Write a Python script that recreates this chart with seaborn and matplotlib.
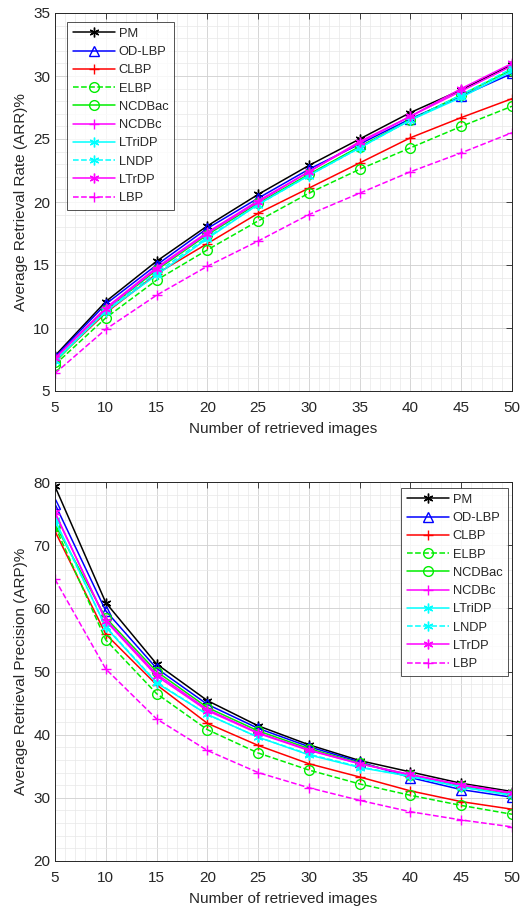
import numpy as np
import pandas as pd
import seaborn as sns
import matplotlib.pyplot as plt
from matplotlib.ticker import MultipleLocator

# retrieved images
n_images = [5, 10, 15, 20, 25, 30, 35, 40, 45, 50]
methods = ["PM", "OD-LBP", "CLBP", "ELBP", "NCDBac", "NCDBc", "LTriDP", "LNDP", "LTrDP", "LBP"]

# Average Retrieval Rate (ARR)%
arr_pm = [7.8, 12.1, 15.3, 18.1, 20.6, 22.9, 25.0, 27.1, 28.9, 30.9]
arr_odlbp = [7.7, 11.9, 15.0, 17.9, 20.3, 22.6, 24.6, 26.6, 28.4, 30.2]
arr_clbp = [7.4, 11.2, 14.3, 16.7, 19.1, 21.1, 23.1, 25.1, 26.7, 28.2]
arr_elbp = [7.1, 10.8, 13.8, 16.2, 18.5, 20.7, 22.6, 24.3, 26.0, 27.6]
arr_ncdbac = [7.3, 11.4, 14.6, 17.4, 19.9, 22.2, 24.4, 26.5, 28.5, 30.5]
arr_ncdbc = [7.6, 11.6, 14.8, 17.6, 20.1, 22.4, 24.7, 26.8, 28.8, 30.8]
arr_ltridp = [7.4, 11.3, 14.2, 17.1, 19.8, 22.1, 24.3, 26.5, 28.3, 30.4]
arr_lndp = [7.4, 11.4, 14.4, 17.2, 19.8, 22.1, 24.3, 26.5, 28.5, 30.6]
arr_ltrdp = [7.6, 11.5, 14.7, 17.5, 20.0, 22.4, 24.8, 26.8, 29.0, 31.0]
arr_lbp = [6.4, 9.9, 12.6, 14.9, 16.9, 19.0, 20.7, 22.4, 23.9, 25.5]

# Average Retrieval Precision (ARP)%
arp_pm = [79.3, 60.9, 51.2, 45.4, 41.4, 38.4, 35.9, 34.1, 32.3, 31.0]
arp_odlbp = [76.5, 59.6, 50.5, 44.8, 41.0, 38.1, 35.7, 33.2, 31.3, 30.1]
arp_clbp = [72.2, 55.9, 47.9, 41.8, 38.3, 35.4, 33.3, 31.1, 29.4, 28.2]
arp_elbp = [73.0, 55.0, 46.5, 40.8, 37.1, 34.4, 32.2, 30.4, 28.8, 27.4]
arp_ncdbac = [73.3, 58.5, 50.0, 44.3, 40.6, 37.8, 35.5, 33.6, 31.9, 30.6]
arp_ncdbc = [75.0, 58.2, 49.6, 44.0, 40.3, 37.6, 35.4, 33.6, 32.0, 30.7]
arp_ltridp = [74.0, 57.0, 48.2, 43.2, 39.6, 36.8, 34.8, 33.4, 31.7, 30.4]
arp_lndp = [73.8, 57.1, 48.3, 43.2, 39.6, 36.9, 34.9, 33.4, 31.7, 30.4]
arp_ltrdp = [75.2, 58.0, 49.3, 43.8, 40.2, 37.5, 35.4, 33.7, 32.1, 30.8]
arp_lbp = [64.6, 50.4, 42.5, 37.5, 34.0, 31.6, 29.6, 27.8, 26.5, 25.4]

arr = [arr_pm, arr_odlbp, arr_clbp, arr_elbp, arr_ncdbac, arr_ncdbc, arr_ltridp, arr_lndp, arr_ltrdp, arr_lbp]
arp = [arp_pm, arp_odlbp, arp_clbp, arp_elbp, arp_ncdbac, arp_ncdbc, arp_ltridp, arp_lndp, arp_ltrdp, arp_lbp]

# matlab-ish line styles ("*" there is an asterisk, not a star)
ast = (6, 2, 0)
colors = ["k", "b", "r", "#00ee00", "#00ee00", "#ff00ff", "#00ffff", "#00ffff", "#ff00ff", "#ff00ff"]
markers = [ast, "^", "+", "o", "o", "+", ast, ast, ast, "+"]
lstyles = ["-", "-", "-", "--", "-", "-", "-", "--", "-", "--"]

sns.set_style("white")
plt.rcParams['font.family'] = ['Liberation Sans', 'DejaVu Sans']

fig = plt.figure(figsize=(5.28, 9.07), dpi=100)
ax1 = fig.add_axes([55 / 528, 1 - 391 / 907, 457 / 528, 378 / 907])
ax2 = fig.add_axes([55 / 528, 1 - 861 / 907, 457 / 528, 379 / 907])


def draw(ax, data, ylabel, ylim, ymaj, ymin, loc, anchor):
    for name, vals, c, m, ls in zip(methods, data, colors, markers, lstyles):
        df = pd.DataFrame({"n": n_images, "v": vals})
        sns.lineplot(data=df, x="n", y="v", ax=ax, color=c, marker=m, linestyle=ls,
                     markersize=7, markerfacecolor="none",
                     markeredgecolor=c, markeredgewidth=1.0, linewidth=1.1, label=name)
    ax.set_xlim(5, 50)
    ax.set_ylim(*ylim)
    ax.xaxis.set_major_locator(MultipleLocator(5))
    ax.xaxis.set_minor_locator(MultipleLocator(1))
    ax.yaxis.set_major_locator(MultipleLocator(ymaj))
    ax.yaxis.set_minor_locator(MultipleLocator(ymin))
    ax.grid(which="major", color="#cfcfcf", linewidth=0.6)
    ax.grid(which="minor", color="#e8e8e8", linewidth=0.5)
    ax.set_axisbelow(True)
    ax.tick_params(which="major", direction="in", length=4, top=True, right=True,
                   labelsize=11, colors="#262626", width=0.6)
    ax.tick_params(axis="x", which="major", pad=7)
    ax.tick_params(which="minor", length=0)
    for s in ax.spines.values():
        s.set_color("#262626")
        s.set_linewidth(0.7)
    ax.set_xlabel("Number of retrieved images", fontsize=11, color="#262626", labelpad=5)
    ax.set_ylabel(ylabel, fontsize=11, color="#262626")
    leg = ax.legend(loc=loc, bbox_to_anchor=anchor, borderaxespad=0, fontsize=9.3,
                    handlelength=3.3, labelspacing=0.48, frameon=True, fancybox=False,
                    borderpad=0.45, handletextpad=0.25)
    leg.get_frame().set_edgecolor("#262626")
    leg.get_frame().set_linewidth(0.7)
    return leg


draw(ax1, arr, "Average Retrieval Rate (ARR)%", (5, 35), 5, 1,
     "upper left", (12 / 457, 1 - 9 / 378))
draw(ax2, arp, "Average Retrieval Precision (ARP)%", (20, 80), 10, 2,
     "upper right", (1 - 4 / 457, 1 - 6 / 379))

fig.savefig("out.png", dpi=100)
